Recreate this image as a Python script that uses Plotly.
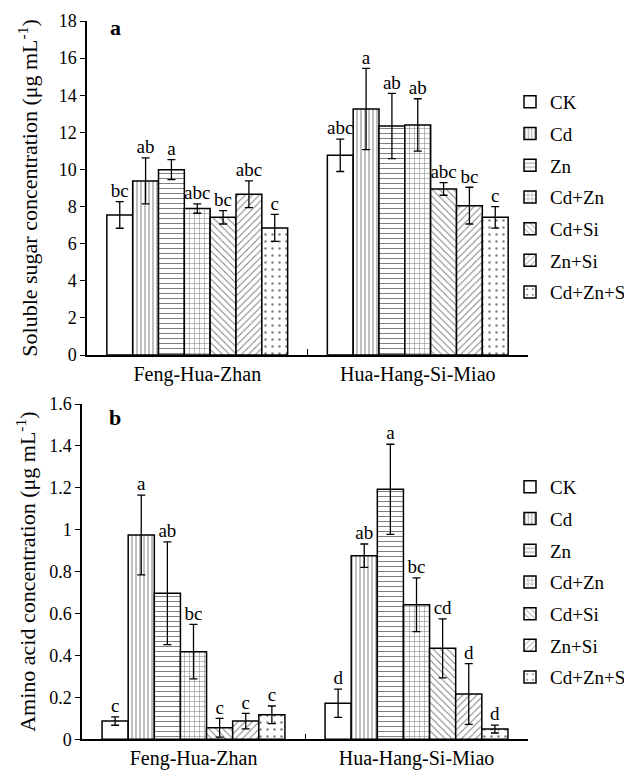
import plotly.graph_objects as go

cultivars = ["Feng-Hua-Zhan", "Hua-Hang-Si-Miao"]
treatments = ["CK", "Cd", "Zn", "Cd+Zn", "Cd+Si", "Zn+Si", "Cd+Zn+Si"]

# Soluble sugar (panel a)
sugar_fhz = [7.55, 9.38, 9.99, 7.89, 7.42, 8.66, 6.85]
sugar_hhsm = [10.76, 13.26, 12.34, 12.40, 8.95, 8.05, 7.42]
sugar_err_fhz = [0.72, 1.24, 0.54, 0.25, 0.36, 0.72, 0.73]
sugar_err_hhsm = [0.87, 2.19, 1.76, 1.41, 0.34, 0.99, 0.58]
sugar_let_fhz = ["bc", "ab", "a", "abc", "bc", "abc", "c"]
sugar_let_hhsm = ["abc", "a", "ab", "ab", "abc", "bc", "c"]

# Amino acid (panel b)
amino_fhz = [0.087, 0.975, 0.697, 0.418, 0.055, 0.087, 0.117]
amino_hhsm = [0.172, 0.876, 1.193, 0.642, 0.434, 0.216, 0.049]
amino_err_fhz = [0.020, 0.190, 0.245, 0.130, 0.045, 0.037, 0.042]
amino_err_hhsm = [0.067, 0.056, 0.215, 0.128, 0.141, 0.145, 0.019]
amino_let_fhz = ["c", "a", "ab", "bc", "c", "c", "c"]
amino_let_hhsm = ["d", "ab", "a", "bc", "cd", "d", "d"]

sugar_ticks = [0, 2, 4, 6, 8, 10, 12, 14, 16, 18]
amino_ticks = [0, 0.2, 0.4, 0.6, 0.8, 1.0, 1.2, 1.4, 1.6]

patterns = ["", "|", "-", "+", "\\", "/", "."]
pat_sizes = [8, 4, 5, 5, 5, 5, 7]
pat_solid = [0.2, 0.25, 0.2, 0.2, 0.2, 0.2, 0.1]

FONT = "Liberation Serif"
# page body has an 8px default margin; figure sized to fill the rest of the window
W, H, OFF = 624, 764, 8


def px_x(X):
    return (X - OFF) / W


def px_y(Y):
    return 1 - (Y - OFF) / H


fig = go.Figure()

panels = [
    ("x", "y", "legend", sugar_fhz, sugar_hhsm, sugar_err_fhz, sugar_err_hhsm, sugar_let_fhz, sugar_let_hhsm),
    ("x2", "y2", "legend2", amino_fhz, amino_hhsm, amino_err_fhz, amino_err_hhsm, amino_let_fhz, amino_let_hhsm),
]

for xa, ya, leg, v1, v2, e1, e2, l1, l2 in panels:
    for i, t in enumerate(treatments):
        vals = [v1[i], v2[i]]
        errs = [e1[i], e2[i]]
        fig.add_trace(go.Bar(
            x=cultivars, y=vals, name=t, xaxis=xa, yaxis=ya, legend=leg,
            legendgroup=leg + t,
            offsetgroup=t,
            marker=dict(color="white",
                        line=dict(color="black", width=1.5),
                        pattern=dict(shape=patterns[i], fgcolor="black", bgcolor="white",
                                     size=pat_sizes[i], solidity=pat_solid[i])),
            error_y=dict(type="data", array=errs, visible=True, color="black",
                         thickness=1.3, width=4),
        ))
    for i, t in enumerate(treatments):
        tops = [v1[i] + e1[i], v2[i] + e2[i]]
        fig.add_trace(go.Scatter(
            x=cultivars, y=tops, mode="text", text=[l1[i], l2[i]],
            textposition="top center", xaxis=xa, yaxis=ya, showlegend=False,
            offsetgroup=t, hoverinfo="skip",
            textfont=dict(family=FONT, size=19, color="black"),
        ))

axis_common = dict(showline=True, linecolor="black", linewidth=1.5, showgrid=False,
                   zeroline=False, automargin=False)

fig.update_layout(
    width=W, height=H,
    margin=dict(l=0, r=0, t=0, b=0, autoexpand=False),
    paper_bgcolor="white", plot_bgcolor="white",
    font=dict(family=FONT, size=19, color="black"),
    barmode="group", bargap=0.18, bargroupgap=0,
    scattermode="group", scattergap=0.18,
    xaxis=dict(domain=[px_x(87), px_x(528)], anchor="y", type="category",
               ticks="inside", tickson="boundaries", ticklen=6, tickcolor="black",
               tickfont=dict(family=FONT, size=20, color="black"),
               **axis_common),
    yaxis=dict(domain=[px_y(355), px_y(21)], anchor="x", range=[0, 18],
               tickvals=sugar_ticks, ticks="outside", ticklen=5, tickcolor="black",
               tickfont=dict(family=FONT, size=18, color="black"),
               title=dict(text="Soluble sugar concentration (μg mL<sup>-1</sup>)",
                          font=dict(family=FONT, size=22), standoff=15),
               **axis_common),
    xaxis2=dict(domain=[px_x(82), px_x(528)], anchor="y2", type="category",
                ticks="inside", tickson="boundaries", ticklen=6, tickcolor="black",
                tickfont=dict(family=FONT, size=20, color="black"),
                **axis_common),
    yaxis2=dict(domain=[px_y(739.3), px_y(404)], anchor="x2", range=[0, 1.6],
                tickvals=amino_ticks, ticks="outside", ticklen=5, tickcolor="black",
                tickfont=dict(family=FONT, size=18, color="black"),
                title=dict(text="Amino acid concentration (μg mL<sup>-1</sup>)",
                           font=dict(family=FONT, size=22), standoff=7),
                **axis_common),
    legend=dict(x=px_x(510), y=px_y(83), xanchor="left", yanchor="top", traceorder="grouped",
                tracegroupgap=4, bgcolor="rgba(0,0,0,0)",
                font=dict(family=FONT, size=19)),
    legend2=dict(x=px_x(510), y=px_y(468), xanchor="left", yanchor="top", traceorder="grouped",
                 tracegroupgap=4, bgcolor="rgba(0,0,0,0)",
                 font=dict(family=FONT, size=19)),
    annotations=[
        dict(text="<b>a</b>", x=px_x(115), y=px_y(27), xref="paper", yref="paper",
             xanchor="center", yanchor="middle",
             showarrow=False, font=dict(family=FONT, size=22)),
        dict(text="<b>b</b>", x=px_x(115), y=px_y(417), xref="paper", yref="paper",
             xanchor="center", yanchor="middle",
             showarrow=False, font=dict(family=FONT, size=22)),
    ],
)

fig.write_html("out.html")
